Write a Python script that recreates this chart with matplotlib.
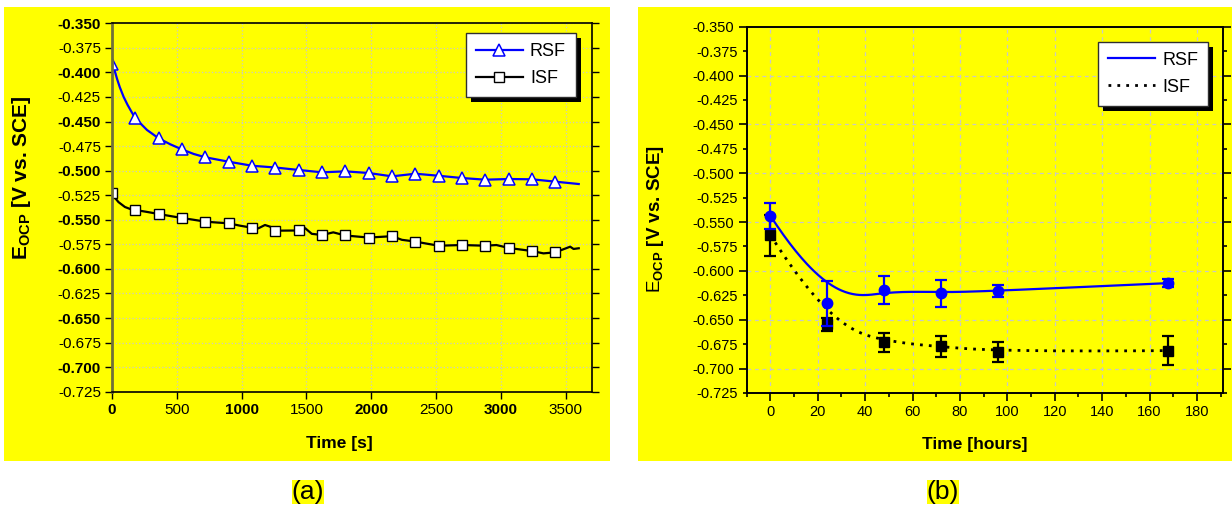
import numpy as np
import matplotlib
matplotlib.use('Agg')
import matplotlib.pyplot as plt
from matplotlib.patches import Rectangle
from matplotlib.transforms import IdentityTransform

plt.rcParams['font.family'] = ['Liberation Sans', 'DejaVu Sans']
plt.rcParams['mathtext.fontset'] = 'custom'
plt.rcParams['mathtext.rm'] = 'Liberation Sans'
plt.rcParams['mathtext.bf'] = 'Liberation Sans:bold'

# (a) OCP vs time in seconds
rsf_t = [0, 20, 40, 60, 90, 120, 150, 180, 270, 360, 450, 540, 630, 720, 900, 1080,
         1260, 1440, 1620, 1800, 1980, 2160, 2340, 2520, 2700, 2880, 3060, 3240, 3420, 3600]
rsf_v = [-0.391, -0.398, -0.407, -0.415, -0.425, -0.433, -0.440, -0.4467, -0.4586,
         -0.4671, -0.4732, -0.4784, -0.4830, -0.4864, -0.4909, -0.4950, -0.4968,
         -0.4993, -0.5017, -0.5007, -0.5024, -0.5058, -0.5031, -0.5052, -0.5075,
         -0.5092, -0.5085, -0.5088, -0.5112, -0.5136]

isf_t = [0, 25, 50, 100, 140, 180, 270, 360, 450, 540, 630, 720, 810, 900, 987, 1080,
         1129, 1180, 1219, 1260, 1440, 1490, 1541, 1620, 1707, 1800, 1980, 2160, 2236,
         2340, 2415, 2520, 2700, 2880, 2965, 3060, 3240, 3328, 3420, 3534, 3560, 3600]
isf_v = [-0.523, -0.528, -0.532, -0.537, -0.539, -0.5400, -0.542, -0.5441, -0.5462,
         -0.5482, -0.5500, -0.5519, -0.5528, -0.5536, -0.5560, -0.5581, -0.5587,
         -0.5553, -0.5570, -0.5611, -0.5609, -0.5586, -0.5643, -0.5655, -0.5628,
         -0.5660, -0.5681, -0.5667, -0.5704, -0.5722, -0.5740, -0.5764, -0.5757,
         -0.5764, -0.5757, -0.5787, -0.5818, -0.5842, -0.5831, -0.5774, -0.5797, -0.5790]

# symbols were drawn every 180 s up to 3420 s
mark_t = np.arange(0, 3421, 180)

# (b) OCP vs immersion time in hours
hours = [0, 24, 48, 72, 96, 168]
rsf_mean = [-0.5436, -0.633, -0.6194, -0.6228, -0.6204, -0.6125]
rsf_err = [0.0135, 0.023, 0.014, 0.0137, 0.006, 0.004]
isf_mean = [-0.5633, -0.6548, -0.6732, -0.6772, -0.6829, -0.6816]
isf_err = [0.021, 0.007, 0.010, 0.011, 0.010, 0.015]

y_ticks = np.round(np.arange(-0.725, -0.349, 0.025), 3)

YELLOW = '#ffff00'
BLUE = '#0000ff'


def bspline(x, y, num=300, k=3):
    """Clamped cubic B-spline with the points as control points (Origin's B-spline)."""
    cx, cy = np.asarray(x, float), np.asarray(y, float)
    n = len(cx)
    knots = np.concatenate([[0.0] * k, np.linspace(0, 1, n - k + 1), [1.0] * k])
    u = np.linspace(0, 1, num)
    u[-1] -= 1e-9
    B = np.zeros((num, len(knots) - 1))
    for i in range(len(knots) - 1):
        B[:, i] = (knots[i] <= u) & (u < knots[i + 1])
    for d in range(1, k + 1):
        Bn = np.zeros((num, len(knots) - 1 - d))
        for i in range(len(knots) - 1 - d):
            a = knots[i + d] - knots[i]
            b = knots[i + d + 1] - knots[i + 1]
            left = (u - knots[i]) / a * B[:, i] if a > 0 else 0
            right = (knots[i + d + 1] - u) / b * B[:, i + 1] if b > 0 else 0
            Bn[:, i] = left + right
        B = Bn
    return B @ cx, B @ cy


fig = plt.figure(figsize=(12.32, 5.12), dpi=100)
W, H = 1232, 512

# yellow panel backgrounds
for x0, x1 in [(4, 610), (638, 1232)]:
    fig.patches.append(Rectangle((x0 / W, (H - 461) / H), (x1 - x0) / W, 454 / H,
                                 transform=fig.transFigure, facecolor=YELLOW,
                                 edgecolor='none', zorder=-10))

ax1 = fig.add_axes([112 / W, (H - 391.7) / H, 479.7 / W, 368.4 / H])
ax2 = fig.add_axes([746.7 / W, (H - 393) / H, 476.3 / W, 366.3 / H])

# ---- panel (a)
ax1.set_facecolor(YELLOW)
ax1.plot(rsf_t, rsf_v, color=BLUE, lw=1.6, marker='^', ms=8, mfc='white', mec=BLUE,
         mew=1.1, markevery=list(np.where(np.isin(rsf_t, mark_t))[0]), label='RSF')
ax1.plot(isf_t, isf_v, color='black', lw=1.6, marker='s', ms=6.5, mfc='white', mec='black',
         mew=1.0, markevery=list(np.where(np.isin(isf_t, mark_t))[0]), label='ISF')
ax1.set_xlim(0, 3700)
ax1.set_ylim(-0.725, -0.350)
xt1 = np.arange(0, 3501, 500)
ax1.set_xticks(xt1, [str(v) for v in xt1])
ax1.set_yticks(y_ticks, ['%.3f' % v for v in y_ticks])
ax1.grid(True, color='#c8c8c8', ls=':', lw=0.9)
ax1.tick_params(direction='out', length=5, width=1, labelsize=11, right=True, pad=3)
for i, lab in enumerate(ax1.get_xticklabels()):
    lab.set_fontweight('bold' if i % 2 == 0 else 'normal')
for i, lab in enumerate(ax1.get_yticklabels()[::-1]):
    lab.set_fontweight('bold' if i % 2 == 0 else 'normal')
ax1.spines['left'].set_color('#70703a')
ax1.spines['left'].set_linewidth(2)
for s in ['top', 'right', 'bottom']:
    ax1.spines[s].set_linewidth(1.2)
ax1.set_xlabel('Time [s]', fontsize=12.5, fontweight='bold')
ax1.xaxis.set_label_coords(0.473, -0.12)
ax1.set_ylabel(r'$\mathbf{E_{OCP}}$ [V vs. SCE]', fontsize=15, fontweight='bold')
ax1.yaxis.set_label_coords(-0.165, 0.58)

# ---- panel (b)
ax2.set_facecolor(YELLOW)
sx, sy = bspline(hours, rsf_mean)
ax2.plot(sx, sy, color=BLUE, lw=1.6, label='RSF')
sx, sy = bspline(hours, isf_mean)
ax2.plot(sx, sy, color='black', lw=2, ls=(0, (1, 2.2)), label='ISF')
ax2.errorbar(hours, rsf_mean, yerr=rsf_err, fmt='o', color=BLUE, ms=7.5, capsize=4,
             elinewidth=1.6, capthick=1.6, zorder=4)
ax2.errorbar(hours, isf_mean, yerr=isf_err, fmt='s', color='black', ms=6.5, capsize=4,
             elinewidth=1.6, capthick=1.6, zorder=3)
ax2.set_xlim(-10, 191)
ax2.set_ylim(-0.725, -0.350)
ax2.set_xticks(np.arange(0, 181, 20))
ax2.set_xticks(np.arange(-10, 191, 10), minor=True)
y_major = y_ticks[::-1][::2]
y_minor = y_ticks[::-1][1::2]
ax2.set_yticks(y_major, ['%.3f' % v for v in y_major])
ax2.set_yticks(y_minor, ['%.3f' % v for v in y_minor], minor=True)
ax2.grid(True, which='major', color='#c8c8c8', ls=(0, (3, 3)), lw=0.9)
ax2.tick_params(which='both', direction='out', labelsize=10.5, right=True, pad=3)
ax2.tick_params(which='major', length=6, width=1.2)
ax2.tick_params(which='minor', length=3, width=1.2)
for s in ax2.spines.values():
    s.set_linewidth(1.4)
ax2.set_xlabel('Time [hours]', fontsize=12.5, fontweight='bold')
ax2.xaxis.set_label_coords(0.479, -0.12)
ax2.set_ylabel(r'$\mathrm{E}_{\mathbf{OCP}}$ [V vs. SCE]', fontsize=13.5, fontweight='bold')
ax2.yaxis.set_label_coords(-0.17, 0.475)

# legends with a hard black drop shadow
legends = []
for ax, anchor in [(ax1, (0.967, 0.973)), (ax2, (0.969, 0.959))]:
    leg = ax.legend(loc='upper right', bbox_to_anchor=anchor, borderaxespad=0,
                    fontsize=13, handlelength=2.6, handletextpad=0.4, labelspacing=0.55,
                    borderpad=0.55, fancybox=False, framealpha=1, edgecolor='#303030')
    leg.get_frame().set_linewidth(1.0)
    leg.set_zorder(6)
    legends.append((ax, leg))

fig.canvas.draw()
for ax, leg in legends:
    bb = leg.get_window_extent()
    ax.add_patch(Rectangle((bb.x0 + 5, bb.y0 - 5), bb.width, bb.height,
                           transform=IdentityTransform(), facecolor='black',
                           edgecolor='none', clip_on=False, zorder=5.5))

# panel captions
for x, txt in [(308, '(a)'), (943, '(b)')]:
    fig.text(x / W, (H - 492) / H, txt, fontsize=19, ha='center', va='center',
             bbox=dict(facecolor=YELLOW, edgecolor='none', pad=0))

fig.savefig('out.png', dpi=100)
plt.close(fig)
